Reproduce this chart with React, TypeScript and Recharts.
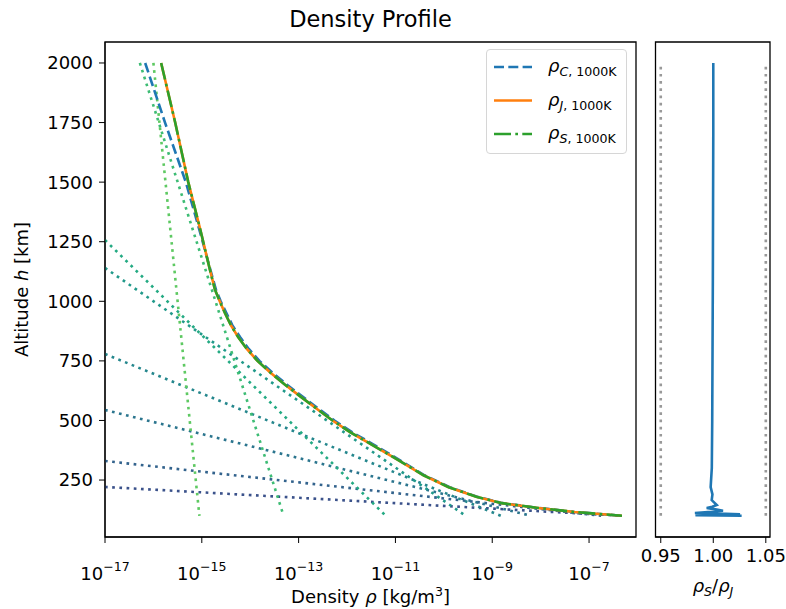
import React from 'react';
import { LineChart, Line, XAxis, YAxis, Legend, ReferenceArea } from 'recharts';

const FONT = 'DejaVu Sans, sans-serif';

// altitude grid [km] shared by the three profiles
const altitudes = [2000, 1750, 1500, 1300, 1130, 1050, 1000, 950, 900, 850, 800, 750, 700, 650, 600, 545, 500, 450, 400, 335, 270, 220, 180, 153, 133, 116, 100];
// log10 of density [kg/m^3]
const logRhoC = [-16.17, -15.76, -15.33, -15.05, -14.82, -14.71, -14.61, -14.49, -14.37, -14.21, -14.03, -13.81, -13.54, -13.24, -12.92, -12.56, -12.26, -11.89, -11.46, -10.92, -10.4, -9.88, -9.31, -8.79, -8.04, -7.3, -6.32];
const logRhoJ = [-15.84, -15.55, -15.28, -15.03, -14.83, -14.73, -14.63, -14.52, -14.4, -14.25, -14.07, -13.85, -13.58, -13.28, -12.96, -12.6, -12.3, -11.93, -11.5, -10.95, -10.42, -9.9, -9.33, -8.8, -8.05, -7.3, -6.32];
const logRhoS = [-15.84, -15.55, -15.28, -15.03, -14.83, -14.73, -14.63, -14.52, -14.4, -14.25, -14.07, -13.85, -13.58, -13.28, -12.96, -12.6, -12.3, -11.93, -11.5, -10.95, -10.42, -9.9, -9.33, -8.8, -8.05, -7.3, -6.32];

// exponential layer fits (straight in log rho vs h), lowest layer first
const fitUpperLog = [-17, -17, -17, -17, -17, -17, -16.28, -16.0];
const fitUpperAlt = [221, 330, 544, 779, 1140, 1257, 2000, 2000];
const fitLowerLog = [-6.34, -6.75, -8.2, -8.82, -9.55, -11.2, -13.31, -15.05];
const fitLowerAlt = [100, 100, 100, 100, 100, 100, 100, 100];
const fitColors = ['#3b528b', '#33638d', '#2b758e', '#25878d', '#21998a', '#24aa83', '#3dbc74', '#5ec962'];

// rho_S / rho_J
const ratioAlt = [2000, 1700, 1400, 1100, 800, 500, 300, 220, 190, 166, 155, 145, 138, 133, 127, 121, 116, 112, 109, 106, 104, 102, 100];
const ratioSJ = [1.0, 1.0, 0.9998, 0.9996, 0.9993, 0.999, 0.9986, 0.9975, 0.9992, 0.9985, 1.001, 1.0033, 0.999, 0.9937, 1.002, 1.0093, 0.995, 0.9825, 1.005, 1.0255, 0.99, 0.983, 1.027];
const guideRatios = [0.95, 1.05];
const guideAlt = [100, 2000];

const xTicks = [-17, -15, -13, -11, -9, -7];
const yTicks = [250, 500, 750, 1000, 1250, 1500, 1750, 2000];
const ratioTicks = [0.95, 1.0, 1.05];
const xDomain = [-17, -6.03];
const yDomain = [11, 2088];

const legendItems = [
  { sub: 'C', color: '#1f77b4', dash: '10 4.3' },
  { sub: 'J', color: '#ff7f0e', dash: undefined },
  { sub: 'S', color: '#2ca02c', dash: '17 4.3 2.7 4.3' },
];

const profile = (logs: number[]) => logs.map((v, i) => ({ logRho: v, h: altitudes[i] }));

function PowerTick({ x, y, payload }: any) {
  return (
    <text x={x} y={y} textAnchor="middle" fill="#000" fontFamily={FONT} fontSize={18}>
      <tspan dy={31}>10</tspan>
      <tspan dy={-9} fontSize={12.6}>{'\u2212' + Math.abs(payload.value)}</tspan>
    </text>
  );
}

function DensityLegend() {
  return (
    <div
      style={{
        width: 141,
        height: 105,
        boxSizing: 'border-box',
        border: '1px solid #d6d6d6',
        borderRadius: 4,
        background: 'rgba(255,255,255,0.8)',
      }}
    >
      <svg width={139} height={103}>
        {legendItems.map((item, i) => {
          const cy = 17 + i * 33.5;
          return (
            <g key={item.sub}>
              <line x1={7} x2={45} y1={cy} y2={cy} stroke={item.color} strokeWidth={2.6} strokeDasharray={item.dash} />
              <text x={61} y={cy + 5} fontFamily={FONT} fontSize={18} fill="#000">
                <tspan fontStyle="italic">ρ</tspan>
                <tspan fontSize={12.6} dy={4} fontStyle="italic">{item.sub}</tspan>
                <tspan fontSize={12.6}>, 1000K</tspan>
              </text>
            </g>
          );
        })}
      </svg>
    </div>
  );
}

export default function App() {
  const tickStyle = { fill: '#000', fontSize: 18, fontFamily: FONT };
  return (
    <div style={{ position: 'absolute', left: 0, top: 0, width: 786, height: 609, background: '#fff', fontFamily: FONT }}>
      <div style={{ position: 'absolute', left: 0, top: 0 }}>
        <LineChart width={645} height={609} margin={{ top: 42, right: 9, bottom: 22, left: 5 }}>
          <XAxis
            type="number"
            dataKey="logRho"
            domain={xDomain}
            ticks={xTicks}
            interval={0}
            allowDataOverflow
            height={50}
            tickSize={6}
            tickMargin={6}
            stroke="#000"
            tick={<PowerTick />}
          />
          <YAxis
            type="number"
            domain={yDomain}
            ticks={yTicks}
            interval={0}
            allowDataOverflow
            width={100}
            tickSize={6}
            tickMargin={6}
            stroke="#000"
            tick={tickStyle}
          />
          {fitColors.map((c, i) => (
            <Line
              key={'fit' + i}
              data={[
                { logRho: fitUpperLog[i], h: fitUpperAlt[i] },
                { logRho: fitLowerLog[i], h: fitLowerAlt[i] },
              ]}
              dataKey="h"
              stroke={c}
              strokeWidth={2.6}
              strokeDasharray="2.7 4.5"
              dot={false}
              legendType="none"
              isAnimationActive={false}
            />
          ))}
          <Line data={profile(logRhoC)} dataKey="h" stroke="#1f77b4" strokeWidth={2.6} strokeDasharray="10 4.3" dot={false} isAnimationActive={false} />
          <Line data={profile(logRhoJ)} dataKey="h" stroke="#ff7f0e" strokeWidth={2.6} dot={false} isAnimationActive={false} />
          <Line data={profile(logRhoS)} dataKey="h" stroke="#2ca02c" strokeWidth={2.6} strokeDasharray="17 4.3 2.7 4.3" dot={false} isAnimationActive={false} />
          <ReferenceArea x1={xDomain[0]} x2={xDomain[1]} y1={yDomain[0]} y2={yDomain[1]} fill="none" stroke="#000" strokeWidth={1.3} ifOverflow="visible" />
          <Legend
            content={() => <DensityLegend />}
            layout="vertical"
            align="center"
            verticalAlign="middle"
            wrapperStyle={{ left: 486, top: 49, width: 141 }}
          />
        </LineChart>
      </div>
      <div style={{ position: 'absolute', left: 640, top: 0 }}>
        <LineChart width={146} height={609} margin={{ top: 42, right: 16, bottom: 22, left: 0.5 }}>
          <XAxis
            type="number"
            dataKey="ratio"
            domain={[0.945, 1.054]}
            ticks={ratioTicks}
            interval={0}
            allowDataOverflow
            height={50}
            tickSize={6}
            tickMargin={6}
            stroke="#000"
            tick={tickStyle}
            tickFormatter={(v: number) => v.toFixed(2)}
          />
          <YAxis
            type="number"
            domain={yDomain}
            ticks={yTicks}
            interval={0}
            allowDataOverflow
            width={15}
            tickSize={6}
            stroke="#000"
            tick={false}
          />
          {guideRatios.map((r) => (
            <Line
              key={'guide' + r}
              data={guideAlt.map((h) => ({ ratio: r, h }))}
              dataKey="h"
              stroke="#999"
              strokeWidth={2.6}
              strokeDasharray="2.7 4.5"
              dot={false}
              isAnimationActive={false}
            />
          ))}
          <Line
            data={ratioSJ.map((r, i) => ({ ratio: r, h: ratioAlt[i] }))}
            dataKey="h"
            stroke="#1f77b4"
            strokeWidth={2.6}
            dot={false}
            isAnimationActive={false}
          />
          <ReferenceArea x1={0.945} x2={1.054} y1={yDomain[0]} y2={yDomain[1]} fill="none" stroke="#000" strokeWidth={1.3} ifOverflow="visible" />
        </LineChart>
      </div>
      <svg width={786} height={609} style={{ position: 'absolute', left: 0, top: 0, pointerEvents: 'none' }}>
        <text x={370.5} y={27} textAnchor="middle" fontFamily={FONT} fontSize={22.5} fill="#000">
          Density Profile
        </text>
        <text transform="rotate(-90)" x={-289.5} y={28} textAnchor="middle" fontFamily={FONT} fontSize={18} fill="#000">
          Altitude <tspan fontStyle="italic">h</tspan> [km]
        </text>
        <text x={370.5} y={603} textAnchor="middle" fontFamily={FONT} fontSize={18} fill="#000">
          Density <tspan fontStyle="italic">ρ</tspan> [kg/m<tspan dy={-7} fontSize={12.6}>3</tspan><tspan dy={7}>]</tspan>
        </text>
        <text x={713} y={592} textAnchor="middle" fontFamily={FONT} fontSize={18} fill="#000">
          <tspan fontStyle="italic">ρ</tspan>
          <tspan fontStyle="italic" fontSize={12.6} dy={4}>S</tspan>
          <tspan dy={-4}>/</tspan>
          <tspan fontStyle="italic">ρ</tspan>
          <tspan fontStyle="italic" fontSize={12.6} dy={4}>J</tspan>
        </text>
      </svg>
    </div>
  );
}
